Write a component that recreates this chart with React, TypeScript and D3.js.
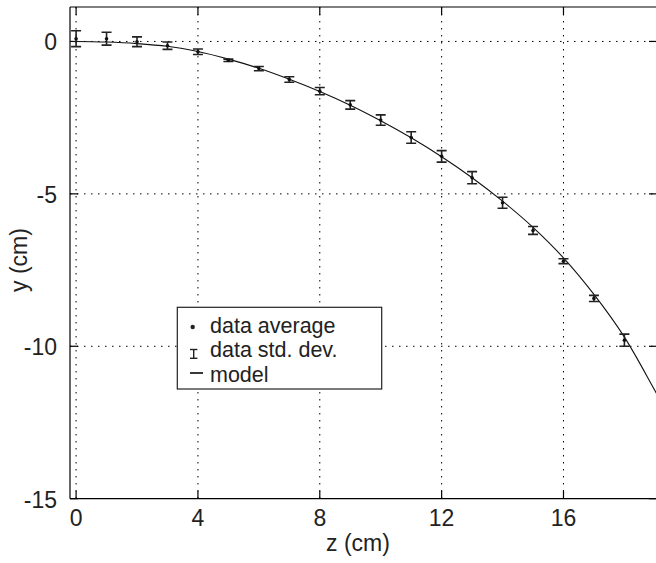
import React from "react";
import * as d3 from "d3";

const zValues = [0, 1, 2, 3, 4, 5, 6, 7, 8, 9, 10, 11, 12, 13, 14, 15, 16, 17, 18];
const yMeans = [0.09, 0.09, -0.01, -0.14, -0.34, -0.62, -0.89, -1.25, -1.63, -2.08, -2.58, -3.15, -3.77, -4.47, -5.29, -6.2, -7.21, -8.43, -9.8];
const yStd = [0.26, 0.21, 0.16, 0.12, 0.09, 0.04, 0.07, 0.09, 0.12, 0.14, 0.17, 0.19, 0.19, 0.2, 0.18, 0.13, 0.08, 0.1, 0.2];

const modelZ = [-0.3, 0, 1, 2, 3, 4, 5, 6, 7, 8, 9, 10, 11, 12, 13, 14, 15, 16, 17, 18, 19, 19.5];
const modelY = [0, 0, -0.02, -0.07, -0.16, -0.33, -0.58, -0.88, -1.24, -1.64, -2.09, -2.6, -3.16, -3.78, -4.47, -5.24, -6.1, -7.1, -8.3, -9.7, -11.45, -12.35];

const xTicks = [0, 4, 8, 12, 16];
const yTicks = [0, -5, -10, -15];
const xGrid = [0, 4, 8, 12, 16];
const yGrid = [0, -5, -10];

const legendLabels = ["data average", "data std. dev.", "model"];

const W = 656;
const H = 563;
const L = 70;
const R = 657;
const T = 7;
const B = 498.7;
const FONT = "'Liberation Sans', Arial, Helvetica, sans-serif";
const FS = 23;
const LFS = 21.5;

export default function App() {
  const x = d3.scaleLinear().domain([-0.2, 19.07]).range([L, R]);
  const y = d3.scaleLinear().domain([-15, 1.13]).range([B, T]);
  const line = d3
    .line<number>()
    .x((_, i) => x(modelZ[i]))
    .y((d) => y(d))
    .curve(d3.curveCatmullRom);
  const tick = 8;
  const capW = 5;
  const rowBase = [332.5, 357, 381.5];

  return (
    <svg
      width={W}
      height={H}
      style={{ position: "absolute", left: 0, top: 0, background: "#fff" }}
      fontFamily={FONT}
    >
      <defs>
        <clipPath id="plotclip">
          <rect x={L} y={T} width={R - L} height={B - T} />
        </clipPath>
      </defs>
      <rect x={0} y={0} width={W} height={H} fill="#fff" />
      {/* grid */}
      <g stroke="#000" strokeWidth={1} strokeDasharray="1.5,5.5">
        {xGrid.map((v) => (
          <line key={"gx" + v} x1={x(v)} x2={x(v)} y1={T} y2={B} />
        ))}
        {yGrid.map((v) => (
          <line key={"gy" + v} x1={L} x2={R} y1={y(v)} y2={y(v)} />
        ))}
      </g>
      {/* axes box */}
      <g stroke="#000" strokeWidth={1.2} fill="none">
        <line x1={L} x2={R} y1={T} y2={T} />
        <line x1={L} x2={R} y1={B} y2={B} />
        <line x1={L} x2={L} y1={T} y2={B} />
        <line x1={R} x2={R} y1={T} y2={B} />
        {xTicks.map((v) => (
          <g key={"xt" + v}>
            <line x1={x(v)} x2={x(v)} y1={B} y2={B - tick} />
            <line x1={x(v)} x2={x(v)} y1={T} y2={T + tick} />
          </g>
        ))}
        {yTicks.map((v) => (
          <g key={"yt" + v}>
            <line x1={L} x2={L + tick} y1={y(v)} y2={y(v)} />
            <line x1={R} x2={R - tick} y1={y(v)} y2={y(v)} />
          </g>
        ))}
      </g>
      {/* tick labels */}
      <g fontSize={FS} fill="#222">
        {xTicks.map((v) => (
          <text key={"xl" + v} x={x(v)} y={B + 27.5} textAnchor="middle">
            {v}
          </text>
        ))}
        {yTicks.map((v) => (
          <text key={"yl" + v} x={L - 13} y={y(v) + 9} textAnchor="end">
            {v}
          </text>
        ))}
      </g>
      <text x={358} y={551} fontSize={FS} textAnchor="middle" fill="#222">
        z (cm)
      </text>
      <text
        transform={`translate(27, 260) rotate(-90)`}
        fontSize={FS}
        textAnchor="middle"
        fill="#222"
      >
        y (cm)
      </text>
      {/* model */}
      <g clipPath="url(#plotclip)">
        <path d={line(modelY) || ""} fill="none" stroke="#111" strokeWidth={1.1} />
        {/* error bars */}
        <g stroke="#222" strokeWidth={1.6}>
          {zValues.map((z, i) => {
            const cx = x(z);
            const y1 = y(yMeans[i] + yStd[i]);
            const y2 = y(yMeans[i] - yStd[i]);
            return (
              <g key={"eb" + i}>
                <line x1={cx} x2={cx} y1={y1} y2={y2} />
                <line x1={cx - capW} x2={cx + capW} y1={y1} y2={y1} />
                <line x1={cx - capW} x2={cx + capW} y1={y2} y2={y2} />
              </g>
            );
          })}
        </g>
        {zValues.map((z, i) => (
          <circle key={"pt" + i} cx={x(z)} cy={y(yMeans[i])} r={1.8} fill="#111" />
        ))}
      </g>
      {/* legend */}
      <g>
        <rect x={177.3} y={307.3} width={204.4} height={81.7} fill="#fff" stroke="#222" strokeWidth={1.2} />
        <circle cx={192.7} cy={327} r={2.2} fill="#222" />
        <g stroke="#222" strokeWidth={1.4}>
          <line x1={193.7} x2={193.7} y1={349.5} y2={358.3} />
          <line x1={190} x2={197.4} y1={349.5} y2={349.5} />
          <line x1={190} x2={197.4} y1={358.3} y2={358.3} />
        </g>
        <line x1={190} x2={203} y1={373} y2={373} stroke="#222" strokeWidth={1.8} />
        {legendLabels.map((t, i) => (
          <text key={t} x={210} y={rowBase[i]} fontSize={LFS} fill="#222">
            {t}
          </text>
        ))}
      </g>
    </svg>
  );
}
